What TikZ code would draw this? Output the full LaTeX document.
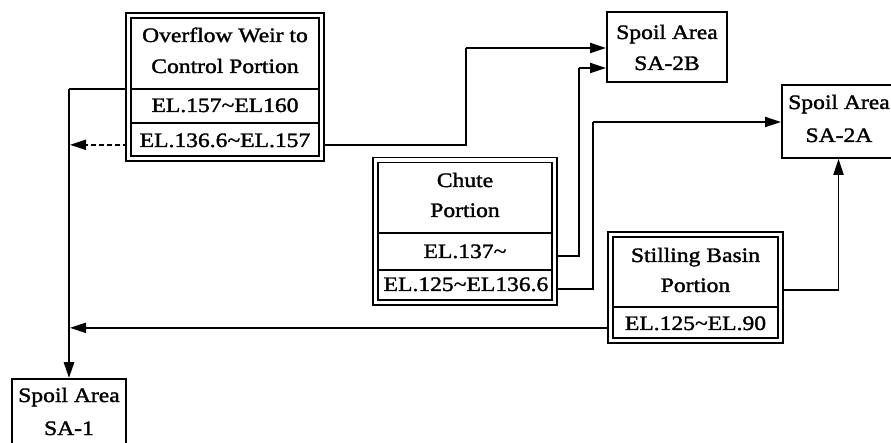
\documentclass[tikz,border=0pt]{standalone}
\usepackage{fontspec}
\usetikzlibrary{arrows.meta,calc}
\newfontfamily\labfont{Liberation Serif}[FakeStretch=1.15,FakeBold=1.6]
\tikzset{
  lab/.style={font=\labfont\fontsize{20.5}{24}\selectfont, inner sep=0pt, anchor=base},
  dframe/.style={draw, double, line width=1.5pt, double distance=3.5pt, inner sep=0pt},
  sbox/.style={draw, line width=1.7pt, inner sep=0pt},
  conn/.style={line width=1.9pt},
  tip/.style={-{Triangle[length=16pt,width=10pt]}},
  divl/.style={line width=1.4pt}
}
\begin{document}
\begin{tikzpicture}[x=1pt,y=-1pt]
\useasboundingbox (0,0) rectangle (891,443);
\clip (0,0) rectangle (891,443);
% frames (named, drawn later)
\path (225,87) node[minimum width=193pt, minimum height=143pt, inner sep=0pt] (ow) {};
\path (465,231.25) node[minimum width=179pt, minimum height=142.5pt, inner sep=0pt] (ch) {};
\path (695.5,287.5) node[minimum width=170pt, minimum height=106pt, inner sep=0pt] (sb) {};
% divider coordinates
\coordinate (owd1) at (0,89);
\coordinate (owd2) at (0,123);
\coordinate (chd1) at (0,233);
\coordinate (chd2) at (0,270);
\coordinate (sbd1) at (0,307);
% texts
\node[lab] (ow1) at (225,42) {Overflow Weir to};
\node[lab] (ow2) at (225,73) {Control Portion};
\node[lab] (ow3) at (225,112) {EL.157\textasciitilde EL160};
\node[lab] (ow4) at (225,147) {EL.136.6\textasciitilde EL.157};
\node[lab] (ch1) at (465,187) {Chute};
\node[lab] (ch2) at (465,217) {Portion};
\node[lab] (ch3) at (465,258) {EL.137\textasciitilde};
\node[lab] (ch4) at (466,291) {EL.125\textasciitilde EL136.6};
\node[lab] (sb1) at (695.5,262) {Stilling Basin};
\node[lab] (sb2) at (695.5,292) {Portion};
\node[lab] (sb3) at (695.5,330) {EL.125\textasciitilde EL.90};
% spoil areas
\node[sbox, minimum width=120pt, minimum height=70pt] (sa2b) at (667,47) {};
\node[sbox, minimum width=113pt, minimum height=73pt] (sa2a) at (838.5,121.5) {};
\node[sbox, minimum width=114pt, minimum height=71pt] (sa1) at (69,414.5) {};
\node[lab] (sa2bt1) at (667,39) {Spoil Area};
\node[lab] (sa2bt2) at (667,70) {SA-2B};
\node[lab] (sa2at1) at (839,109) {Spoil Area};
\node[lab] (sa2at2) at (839,142) {SA-2A};
\node[lab] (sa1t1) at (69,402) {Spoil Area};
\node[lab] (sa1t2) at (69,435) {SA-1};
% dividers
\draw[divl] (ow.west |- owd1) -- (ow.east |- owd1);
\draw[divl] (ow.west |- owd2) -- (ow.east |- owd2);
\draw[divl] (ch.west |- chd1) -- (ch.east |- chd1);
\draw[divl] (ch.west |- chd2) -- (ch.east |- chd2);
\draw[divl] (sb.west |- sbd1) -- (sb.east |- sbd1);
% connectors
\coordinate (lv) at (69,89);
\coordinate (b1) at (466,48);
\coordinate (b2) at (579,68);
\coordinate (b3) at (593,122);
\draw[conn] (ow.west |- owd1) -- (lv);
\draw[conn, line width=2.8pt, tip] (lv) -- (sa1.north);
\draw[conn, tip, dash pattern=on 5pt off 3pt] (ow.west |- ow4.mid) -- ([xshift=1pt]sa1.north |- ow4.mid);
\draw[conn, tip] (sb.west |- sb3.mid) -- ([xshift=1pt]sa1.north |- sb3.mid);
\draw[conn] (ow.east |- ow4.mid) -| (b1);
\draw[conn, tip] (b1) -- (sa2b.west |- b1);
\draw[conn] (ch.east |- ch3.mid) -| (b2);
\draw[conn, tip] (b2) -- (sa2b.west |- b2);
\draw[conn] (ch.east |- ch4.mid) -| (b3);
\draw[conn, tip] (b3) -- (sa2a.west |- b3);
\draw[conn, tip] (sb.east |- sb2.mid) -| (sa2a.south);
% double frames on top
\draw[dframe] (ow.south west) rectangle (ow.north east);
\draw[dframe] (ch.south west) rectangle (ch.north east);
\draw[dframe] (sb.south west) rectangle (sb.north east);
\end{tikzpicture}
\end{document}
